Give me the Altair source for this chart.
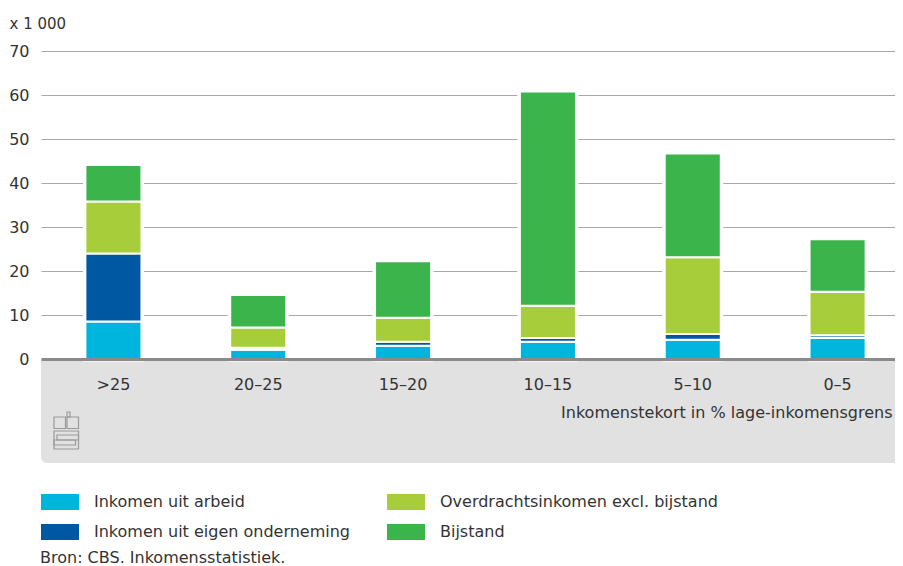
import altair as alt
import pandas as pd

# ---- data (x 1 000) ----
categories = [">25", "20–25", "15–20", "10–15", "5–10", "0–5"]
series = ["Inkomen uit arbeid", "Inkomen uit eigen onderneming",
          "Overdrachtsinkomen excl. bijstand", "Bijstand"]
arbeid = [8.5, 2.1, 3.0, 3.9, 4.35, 4.8]
onderneming = [15.5, 0.45, 0.9, 0.9, 1.35, 0.6]
overdracht = [11.8, 4.6, 5.5, 7.3, 17.4, 9.9]
bijstand = [8.3, 7.4, 12.8, 48.7, 23.6, 11.9]
colors = ["#00b5dd", "#0058a3", "#a7cd3a", "#3cb44c"]
y_ticks = [0, 10, 20, 30, 40, 50, 60, 70]
source = "Bron: CBS. Inkomensstatistiek."

rows = []
for i, c in enumerate(categories):
    for k, (s, vals) in enumerate(zip(series, [arbeid, onderneming, overdracht, bijstand])):
        rows.append({"cat": c, "serie": s, "waarde": vals[i], "orde": k})
df = pd.DataFrame(rows)
totals = df.groupby("cat", sort=False)["waarde"].sum().reset_index()

W, H = 854, 308
FONT = "DejaVu Sans"
TXT = "#333333"

x_enc = alt.X(
    "cat:N", sort=categories,
    scale=alt.Scale(range=[0, 869], paddingInner=0.613, paddingOuter=0.3065),
    axis=alt.Axis(
        labelAngle=0, ticks=False, tickSize=0, domainColor="#8a8a8a", domainWidth=3,
        labelPadding=25, labelBaseline="middle", labelFontSize=16, labelColor=TXT,
        title="Inkomenstekort in % lage-inkomensgrens", titleX=851, titleY=53,
        titleAlign="right", titleBaseline="middle", titleFontSize=16,
        titleFontWeight="normal", titleColor=TXT, zindex=1, grid=False,
    ),
)
y_scale = alt.Scale(domain=[0, 70], nice=False)

panel = alt.Chart(alt.Data(values=[{}])).mark_rect(
    color="#e1e1e1", cornerRadiusBottomLeft=6
).encode(x=alt.value(0), x2=alt.value(W), y=alt.value(309.5), y2=alt.value(412))

backing = alt.Chart(totals).mark_bar(
    color="white", stroke="white", strokeWidth=5
).encode(
    x=x_enc,
    y=alt.Y("waarde:Q", scale=y_scale, axis=alt.Axis(
        values=y_ticks, grid=True, gridColor="#a8a8a8", gridWidth=1,
        domain=False, ticks=False, tickSize=0, labelPadding=12,
        labelFontSize=16, labelColor=TXT, labelBaseline="middle",
        title="x 1 000", titleAngle=0, titleX=-32, titleY=-28,
        titleAlign="left", titleBaseline="middle", titleFontSize=15,
        titleFontWeight="normal", titleColor=TXT,
    )),
)

bars = alt.Chart(df).mark_bar(stroke="white", strokeWidth=2).encode(
    x=x_enc,
    y=alt.Y("waarde:Q", stack="zero", scale=y_scale),
    order=alt.Order("orde:Q", sort="ascending"),
    color=alt.Color(
        "serie:N",
        scale=alt.Scale(domain=series, range=colors),
        legend=alt.Legend(
            orient="none", legendX=11, legendY=443, columns=2,
            symbolType="M-2.375,-1H2.375V1H-2.375Z", symbolSize=256,
            symbolStrokeWidth=0, labelOffset=26, columnPadding=37, rowPadding=14,
            labelFontSize=16, labelColor=TXT, labelLimit=0, title=None, padding=0,
        ),
    ),
)

logo_rects = pd.DataFrame([
    {"x": 13, "x2": 24.5, "y": 366, "y2": 377.5},
    {"x": 26, "x2": 37.5, "y": 366, "y2": 377.5},
    {"x": 26, "x2": 29, "y": 361, "y2": 366},
    {"x": 13, "x2": 37.5, "y": 380, "y2": 398},
    {"x": 16, "x2": 37.5, "y": 384, "y2": 389},
    {"x": 13, "x2": 34.5, "y": 389, "y2": 394},
])
logo = alt.Chart(logo_rects).mark_rect(
    fill=None, stroke="#9a9a9a", strokeWidth=1.2
).encode(
    x=alt.X("x:Q", scale=None), x2="x2:Q",
    y=alt.Y("y:Q", scale=None), y2="y2:Q",
)

src = alt.Chart(alt.Data(values=[{}])).mark_text(
    align="left", baseline="middle", fontSize=16, color=TXT
).encode(x=alt.value(-1), y=alt.value(507), text=alt.value(source))

chart = alt.layer(panel, backing, bars, logo, src).properties(
    width=W, height=H,
    autosize=alt.AutoSizeParams(type="none"),
    padding={"left": 33, "top": 43, "right": 0, "bottom": 207},
).configure(font=FONT, background="white").configure_view(stroke=None)

chart.save("out.html", embed_options={"renderer": "svg", "actions": False})
